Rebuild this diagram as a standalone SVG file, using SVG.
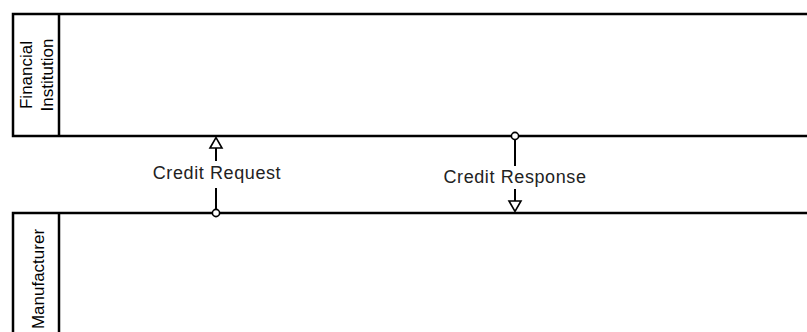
<svg xmlns="http://www.w3.org/2000/svg" width="807" height="332" viewBox="0 0 807 332">
<style>
.pool{fill:#fff;stroke:#000;stroke-width:2.5}
.lane{font-family:"Liberation Sans",Arial,sans-serif;font-size:17px;fill:#000;text-anchor:middle}
.lbl{font-family:"Liberation Sans",Arial,sans-serif;font-size:18px;fill:#222;text-anchor:middle;letter-spacing:0.6px}
.msg{stroke:#000;stroke-width:2;fill:none}
.head{fill:#fff;stroke:#000;stroke-width:1.6}
.dot{fill:#fff;stroke:#000;stroke-width:1.6}
</style>
<g id="pool-financial">
<rect class="pool" x="13" y="14" width="800" height="122"/>
<line x1="59" y1="14" x2="59" y2="136" stroke="#000" stroke-width="2.5"/>
<text class="lane" transform="translate(0,75) rotate(-90)"><tspan x="0" y="32">Financial</tspan><tspan x="0" y="53">Institution</tspan></text>
</g>
<g id="pool-manufacturer">
<rect class="pool" x="13" y="213" width="800" height="130"/>
<line x1="59" y1="213" x2="59" y2="332" stroke="#000" stroke-width="2.5"/>
<text class="lane" transform="translate(0,279) rotate(-90)" x="0" y="44">Manufacturer</text>
</g>
<g id="connectors">
<g id="credit-request">
<line class="msg" x1="216" y1="209" x2="216" y2="188"/>
<line class="msg" x1="216" y1="161" x2="216" y2="148"/>
<path class="head" d="M210,148 L216,137.5 L222,148 Z"/>
<circle class="dot" cx="216" cy="213" r="3.6"/>
<text class="lbl" x="217" y="179">Credit Request</text>
</g>
<g id="credit-response">
<line class="msg" x1="515" y1="140" x2="515" y2="166"/>
<line class="msg" x1="515" y1="189" x2="515" y2="201"/>
<path class="head" d="M509,201 L515,211.5 L521,201 Z"/>
<circle class="dot" cx="515" cy="136" r="3.6"/>
<text class="lbl" x="515" y="183">Credit Response</text>
</g>
</g>
</svg>
